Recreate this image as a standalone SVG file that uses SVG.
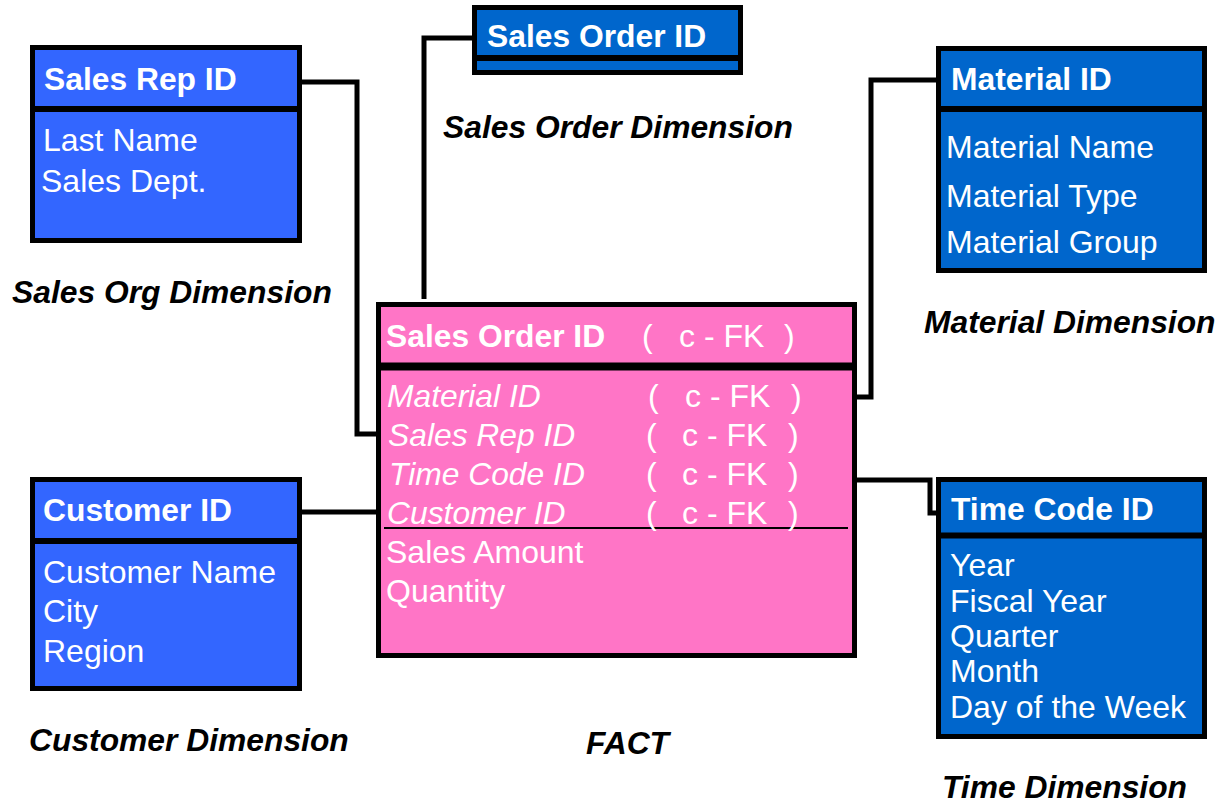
<svg xmlns="http://www.w3.org/2000/svg" width="1220" height="803" viewBox="0 0 1220 803">
<style>
.box{stroke:#000;stroke-width:5}
.b1{fill:#3366FF}
.b2{fill:#0066CC}
.pk{fill:#FF75C6}
.div{stroke:#000;stroke-width:6}
.h{font-family:"Liberation Sans",Arial,sans-serif;font-weight:bold;font-size:31.8px;fill:#fff}
.t{font-family:"Liberation Sans",Arial,sans-serif;font-size:32px;fill:#fff}
.i{font-family:"Liberation Sans",Arial,sans-serif;font-style:italic;font-size:31.8px;fill:#fff}
.lab{font-family:"Liberation Sans",Arial,sans-serif;font-style:italic;font-weight:bold;font-size:31.8px;fill:#000}
.con{fill:none;stroke:#000;stroke-width:5;stroke-linejoin:miter}
</style>
<rect width="1220" height="803" fill="#fff"/>
<g id="connectors">
<path class="con" d="M302,82 H357 V434 H378"/>
<path class="con" d="M302,512 H378"/>
<path class="con" d="M472,38 H424 V299"/>
<path class="con" d="M936,80 H871 V397 H857"/>
<path class="con" d="M857,480 H930 V513 H936"/>
</g>
<g id="sales-rep">
<rect class="box b1" x="32.5" y="47.5" width="267" height="193"/>
<line class="div" x1="30" y1="109" x2="302" y2="109"/>
<text class="h" x="44" y="90">Sales Rep ID</text>
<text class="t" x="43" y="151">Last Name</text>
<text class="t" x="41" y="192">Sales Dept.</text>
</g>
<g id="sales-order">
<rect class="box b2" x="474.5" y="7.5" width="266" height="65"/>
<line class="div" x1="472" y1="58" x2="743" y2="58"/>
<text class="h" x="487" y="47">Sales Order ID</text>
</g>
<g id="material">
<rect class="box b2" x="938.5" y="48.5" width="266" height="222"/>
<line class="div" x1="936" y1="109" x2="1207" y2="109"/>
<text class="h" x="951" y="90">Material ID</text>
<text class="t" x="946" y="158">Material Name</text>
<text class="t" x="946" y="207">Material Type</text>
<text class="t" x="946" y="253">Material Group</text>
</g>
<g id="fact">
<rect class="box pk" x="378.5" y="304.5" width="476" height="351"/>
<line class="div" x1="376" y1="366.5" x2="857" y2="366.5" style="stroke-width:8"/>
<line x1="384" y1="528" x2="848" y2="528" stroke="#000" stroke-width="2"/>
<text class="h" x="386" y="347">Sales Order ID</text>
<text class="t" x="642" y="347">(</text><text class="t" x="679" y="347">c - FK</text><text class="t" x="784" y="347">)</text>
<text class="i" x="387" y="407">Material ID</text>
<text class="t" x="648" y="407">(</text><text class="t" x="685" y="407">c - FK</text><text class="t" x="791" y="407">)</text>
<text class="i" x="388" y="446">Sales Rep ID</text>
<text class="t" x="646" y="446">(</text><text class="t" x="682" y="446">c - FK</text><text class="t" x="788" y="446">)</text>
<text class="i" x="389" y="485">Time Code ID</text>
<text class="t" x="646" y="485">(</text><text class="t" x="682" y="485">c - FK</text><text class="t" x="788" y="485">)</text>
<text class="i" x="387" y="524">Customer ID</text>
<text class="t" x="646" y="524">(</text><text class="t" x="682" y="524">c - FK</text><text class="t" x="788" y="524">)</text>
<text class="t" x="386" y="563">Sales Amount</text>
<text class="t" x="386" y="602">Quantity</text>
</g>
<g id="customer">
<rect class="box b1" x="32.5" y="479.5" width="267" height="209"/>
<line class="div" x1="30" y1="541" x2="302" y2="541"/>
<text class="h" x="43" y="521">Customer ID</text>
<text class="t" x="43" y="583">Customer Name</text>
<text class="t" x="43" y="622">City</text>
<text class="t" x="43" y="662">Region</text>
</g>
<g id="time">
<rect class="box b2" x="938.5" y="479.5" width="266" height="257"/>
<line class="div" x1="936" y1="535.5" x2="1207" y2="535.5"/>
<text class="h" x="951" y="520">Time Code ID</text>
<text class="t" x="950" y="576">Year</text>
<text class="t" x="950" y="612">Fiscal Year</text>
<text class="t" x="950" y="647">Quarter</text>
<text class="t" x="950" y="682">Month</text>
<text class="t" x="950" y="718">Day of the Week</text>
</g>
<g id="labels">
<text class="lab" x="443" y="138">Sales Order Dimension</text>
<text class="lab" x="12" y="303">Sales Org Dimension</text>
<text class="lab" x="924" y="333">Material Dimension</text>
<text class="lab" x="29" y="751">Customer Dimension</text>
<text class="lab" x="586" y="754">FACT</text>
<text class="lab" x="942" y="798">Time Dimension</text>
</g>
</svg>
